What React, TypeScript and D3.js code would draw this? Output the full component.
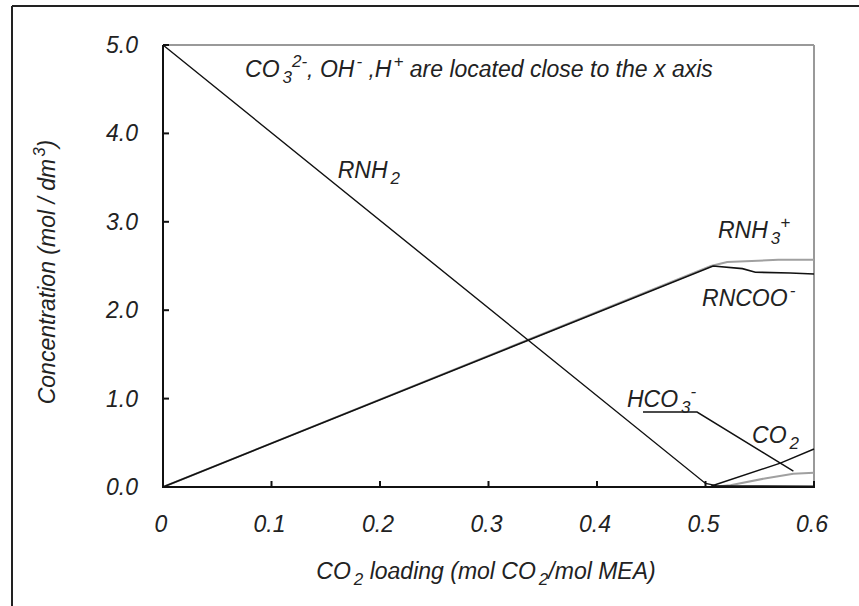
import React from "react";
import * as d3 from "d3";

// ---- data ----
const xTickValues = [0, 0.1, 0.2, 0.3, 0.4, 0.5, 0.6];
const xTickLabels = ["0", "0.1", "0.2", "0.3", "0.4", "0.5", "0.6"];
const yTickValues = [0, 1, 2, 3, 4, 5];
const yTickLabels = ["0.0", "1.0", "2.0", "3.0", "4.0", "5.0"];

const rnh2X = [0, 0.5, 0.51, 0.6];
const rnh2Y = [5.0, 0.04, 0.015, 0.01];

const rnh3X = [0, 0.505, 0.52, 0.567, 0.6];
const rnh3Y = [0, 2.5, 2.545, 2.57, 2.57];

const rncooX = [0, 0.507, 0.534, 0.546, 0.578, 0.6];
const rncooY = [0, 2.5, 2.47, 2.43, 2.42, 2.41];

const co2X = [0.505, 0.511, 0.569, 0.6];
const co2Y = [0.01, 0.034, 0.271, 0.43];

const hco3X = [0.505, 0.523, 0.556, 0.581, 0.6];
const hco3Y = [0.0, 0.02, 0.1, 0.15, 0.16];

// leader line of the HCO3- label (data coords)
const leaderX = [0.4424, 0.4922, 0.581];
const leaderY = [0.848, 0.848, 0.18];

type Part = { t: string; s?: "sub" | "sup" };
const labelTexts: Part[][] = [
  [{ t: "RNH" }, { t: "2", s: "sub" }],
  [{ t: "RNH" }, { t: "3", s: "sub" }, { t: "+", s: "sup" }],
  [{ t: "RNCOO" }, { t: "-", s: "sup" }],
  [{ t: "HCO" }, { t: "3", s: "sub" }, { t: "-", s: "sup" }],
  [{ t: "CO" }, { t: "2", s: "sub" }],
  [
    { t: "CO" },
    { t: "3", s: "sub" },
    { t: "2-", s: "sup" },
    { t: ", OH" },
    { t: "-", s: "sup" },
    { t: " ,H" },
    { t: "+", s: "sup" },
    { t: " are located close to the x axis" },
  ],
];
const labelX = [0.161, 0.5115, 0.4968, 0.4276, 0.5429, 0.0756];
const labelY = [3.495, 2.817, 2.048, 0.905, 0.498, 4.638];

const W = 859;
const H = 606;
const m = { left: 163, top: 45, right: 814, bottom: 487 };
const FONT = "'Liberation Sans', Arial, sans-serif";
const TXT = "#222";
const FS = 23;

function Rich({ parts, x, y, size, anchor, transform }: any) {
  let off = 0;
  const small = Math.round(size * 0.72);
  return (
    <text
      x={x}
      y={y}
      fontFamily={FONT}
      fontStyle="italic"
      fontSize={size}
      fill={TXT}
      textAnchor={anchor || "start"}
      transform={transform}
    >
      {parts.map((p: Part, i: number) => {
        const target = p.s === "sub" ? size * 0.28 : p.s === "sup" ? -size * 0.42 : 0;
        const dy = target - off;
        off = target;
        const prev = parts[i - 1];
        let dx = 0;
        if (p.s === "sub") dx = 3;
        if (p.s === "sup" && prev && prev.s === "sub") dx = 0;
        else if (p.s === "sup") dx = 2;
        return (
          <tspan key={i} dy={dy} dx={dx} fontSize={p.s ? small : size}>
            {p.t}
          </tspan>
        );
      })}
    </text>
  );
}

export default function App() {
  const x = d3.scaleLinear().domain([0, 0.6]).range([m.left, m.right]);
  const y = d3.scaleLinear().domain([0, 5]).range([m.bottom, m.top]);
  const line = d3
    .line<[number, number]>()
    .x((d) => x(d[0]))
    .y((d) => y(d[1]));
  const zip = (a: number[], b: number[]) => a.map((v, i) => [v, b[i]] as [number, number]);

  const black = "#111";
  const gray = "#a0a0a0";

  return (
    <svg
      width={W}
      height={H}
      style={{ position: "absolute", left: 0, top: 0, background: "#fff" }}
    >
      <rect x={0} y={0} width={W} height={H} fill="#fff" />
      {/* outer frame */}
      <line x1={12} y1={6} x2={W + 5} y2={6} stroke="#222" strokeWidth={2} />
      <line x1={12} y1={6} x2={12} y2={H + 5} stroke="#222" strokeWidth={2} />

      {/* plot frame top/right */}
      <line x1={m.left} y1={m.top} x2={m.right} y2={m.top} stroke="#999" strokeWidth={2} />
      <line x1={m.right} y1={m.top} x2={m.right} y2={m.bottom} stroke="#999" strokeWidth={2} />

      {/* series */}
      <path d={line(zip(rnh3X, rnh3Y)) || ""} fill="none" stroke={gray} strokeWidth={2} />
      <path d={line(zip(hco3X, hco3Y)) || ""} fill="none" stroke={gray} strokeWidth={2} />
      <path d={line(zip(rncooX, rncooY)) || ""} fill="none" stroke={black} strokeWidth={1.6} />
      <path d={line(zip(rnh2X, rnh2Y)) || ""} fill="none" stroke={black} strokeWidth={1.4} />
      <path d={line(zip(co2X, co2Y)) || ""} fill="none" stroke={black} strokeWidth={1.4} />
      <path d={line(zip(leaderX, leaderY)) || ""} fill="none" stroke={black} strokeWidth={1.4} />

      {/* axes */}
      <line x1={m.left} y1={m.top} x2={m.left} y2={m.bottom + 1} stroke="#111" strokeWidth={2} />
      <line x1={m.left} y1={m.bottom} x2={m.right + 1} y2={m.bottom} stroke="#111" strokeWidth={2} />
      {yTickValues.map((v, i) => (
        <g key={"y" + i}>
          <line x1={m.left} x2={m.left + 6} y1={y(v)} y2={y(v)} stroke="#111" strokeWidth={2} />
          <text
            x={m.left - 25}
            y={y(v) + 8}
            textAnchor="end"
            fontFamily={FONT}
            fontStyle="italic"
            fontSize={FS}
            fill={TXT}
          >
            {yTickLabels[i]}
          </text>
        </g>
      ))}
      {xTickValues.map((v, i) => (
        <g key={"x" + i}>
          <line x1={x(v)} x2={x(v)} y1={m.bottom} y2={m.bottom - 6} stroke="#111" strokeWidth={2} />
          <text
            x={x(v) - 2}
            y={532}
            textAnchor="middle"
            fontFamily={FONT}
            fontStyle="italic"
            fontSize={FS}
            fill={TXT}
          >
            {xTickLabels[i]}
          </text>
        </g>
      ))}

      {/* labels */}
      {labelTexts.map((p, i) => (
        <Rich key={"l" + i} parts={p} x={x(labelX[i])} y={y(labelY[i])} size={FS} />
      ))}

      {/* axis titles */}
      <Rich
        parts={[
          { t: "CO" },
          { t: "2", s: "sub" },
          { t: "  loading (mol CO" },
          { t: "2", s: "sub" },
          { t: "/mol MEA)" },
        ]}
        x={486}
        y={579}
        size={FS}
        anchor="middle"
      />
      <Rich
        parts={[{ t: "Concentration (mol / dm" }, { t: "3", s: "sup" }, { t: ")" }]}
        x={0}
        y={0}
        size={FS}
        anchor="middle"
        transform={`translate(55, 272) rotate(-90)`}
      />
    </svg>
  );
}
